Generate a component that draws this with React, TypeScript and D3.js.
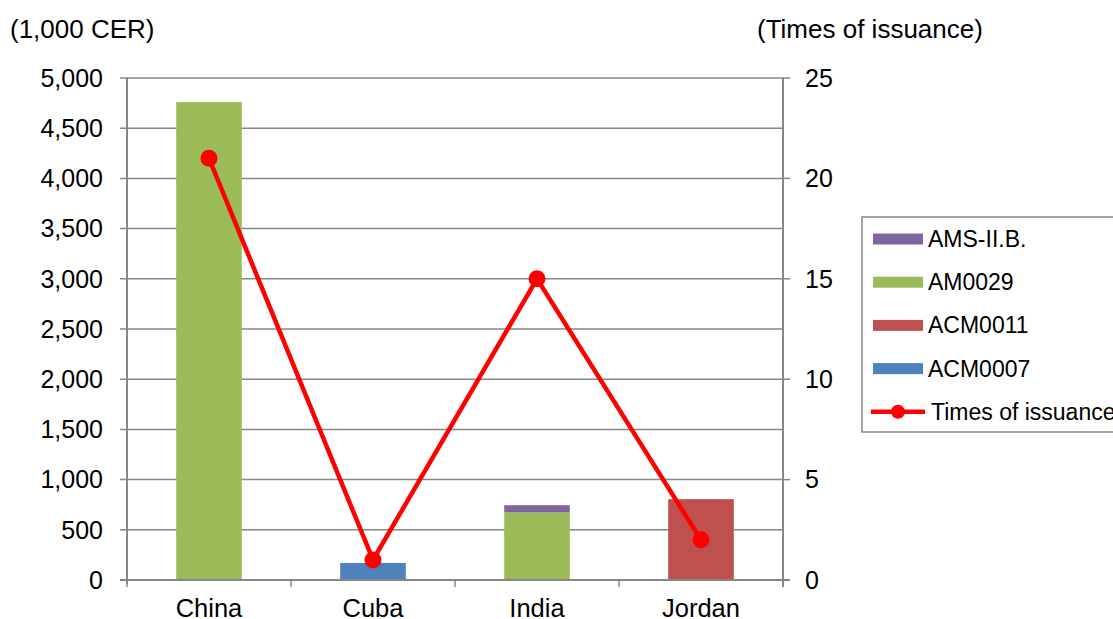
import React from "react";
import * as d3 from "d3";

const categories = ["China", "Cuba", "India", "Jordan"];
const seriesNames = ["ACM0007", "ACM0011", "AM0029", "AMS-II.B."];
const acm0007 = [0, 170, 0, 0];
const acm0011 = [0, 0, 0, 805];
const am0029 = [4760, 0, 675, 0];
const amsIIB = [0, 0, 70, 0];
const timesOfIssuance = [21, 1, 15, 2];
const leftTicks = [0, 500, 1000, 1500, 2000, 2500, 3000, 3500, 4000, 4500, 5000];
const rightTicks = [0, 5, 10, 15, 20, 25];
const colors: Record<string, string> = {
  ACM0007: "#4F81BD",
  ACM0011: "#C0504D",
  AM0029: "#9BBB59",
  "AMS-II.B.": "#8064A2",
};

export default function App() {
  const W = 1113, H = 619;
  const left = 127, right = 783, top = 78, bottom = 580;
  const font = "'Liberation Sans', Arial, sans-serif";
  const x = d3.scaleBand().domain(categories).range([left, right]).paddingInner(0.6).paddingOuter(0.3);
  const xb = d3.scaleBand().domain(categories).range([left, right]);
  const y = d3.scaleLinear().domain([0, 5000]).range([bottom, top]);
  const y2 = d3.scaleLinear().domain([0, 25]).range([bottom, top]);
  const table = categories.map((c, i) => ({
    cat: c,
    ACM0007: acm0007[i],
    ACM0011: acm0011[i],
    AM0029: am0029[i],
    "AMS-II.B.": amsIIB[i],
  }));
  const stack = d3.stack<any>().keys(seriesNames)(table);
  const line = d3
    .line<number>()
    .x((_, i) => (xb(categories[i]) as number) + xb.bandwidth() / 2)
    .y((d) => y2(d));
  const legendItems = ["AMS-II.B.", "AM0029", "ACM0011", "ACM0007"];
  const grid = "#868686";
  return (
    <svg width={W} height={H} style={{ position: "absolute", left: 0, top: 0, background: "#fff" }} fontFamily={font}>
      {leftTicks.map((t) => (
        <line key={"g" + t} x1={left - 7} x2={right} y1={y(t)} y2={y(t)} stroke={grid} strokeWidth={1.5} />
      ))}
      {rightTicks.map((t) => (
        <line key={"r" + t} x1={right} x2={right + 7} y1={y2(t)} y2={y2(t)} stroke={grid} strokeWidth={1.5} />
      ))}
      {stack.map((s) =>
        s.map((d, i) =>
          d[1] - d[0] > 0 ? (
            <rect
              key={s.key + i}
              x={x(categories[i])}
              width={x.bandwidth()}
              y={y(d[1])}
              height={y(d[0]) - y(d[1])}
              fill={colors[s.key]}
            />
          ) : null
        )
      )}
      <line x1={left} x2={left} y1={top} y2={bottom + 4} stroke={grid} strokeWidth={2} />
      <line x1={right} x2={right} y1={top} y2={bottom + 7} stroke={grid} strokeWidth={2} />
      <line x1={left - 7} x2={right + 7} y1={bottom} y2={bottom} stroke={grid} strokeWidth={2} />
      {categories.map((c, i) => (
        <line key={"ct" + i} x1={(xb(c) as number)} x2={(xb(c) as number)} y1={bottom} y2={bottom + 7} stroke={grid} strokeWidth={1.5} />
      ))}
      {leftTicks.map((t) => (
        <text key={"lt" + t} x={103} y={y(t)} dy="0.35em" textAnchor="end" fontSize={25} fill="#000">
          {d3.format(",")(t)}
        </text>
      ))}
      {rightTicks.map((t) => (
        <text key={"rt" + t} x={805} y={y2(t)} dy="0.35em" textAnchor="start" fontSize={25} fill="#000">
          {t}
        </text>
      ))}
      {categories.map((c) => (
        <text key={"cl" + c} x={(xb(c) as number) + xb.bandwidth() / 2} y={608} dy="0.35em" textAnchor="middle" fontSize={25.5} fill="#000">
          {c}
        </text>
      ))}
      <text x={10} y={29} dy="0.35em" fontSize={26} fill="#000">(1,000 CER)</text>
      <text x={757} y={29} dy="0.35em" fontSize={26} fill="#000">(Times of issuance)</text>
      <path d={line(timesOfIssuance) || ""} fill="none" stroke="#FF0000" strokeWidth={4.5} />
      {timesOfIssuance.map((v, i) => (
        <circle key={"m" + i} cx={(xb(categories[i]) as number) + xb.bandwidth() / 2} cy={y2(v)} r={8.5} fill="#FF0000" />
      ))}
      <rect x={862} y={217} width={270} height={215} fill="#fff" stroke={grid} strokeWidth={1.5} />
      {legendItems.map((k, i) => (
        <g key={"lg" + k} transform={`translate(0, ${239 + i * 43.2})`}>
          <rect x={873} y={-5.5} width={50} height={11} fill={colors[k]} />
          <text x={928} y={0} dy="0.35em" fontSize={23} fill="#000">{k}</text>
        </g>
      ))}
      <g transform={`translate(0, ${239 + 4 * 43.2})`}>
        <line x1={871} x2={925} y1={0} y2={0} stroke="#FF0000" strokeWidth={4.5} />
        <circle cx={898} cy={0} r={7} fill="#FF0000" />
        <text x={931} y={0} dy="0.35em" fontSize={23} fill="#000">Times of issuance</text>
      </g>
    </svg>
  );
}
